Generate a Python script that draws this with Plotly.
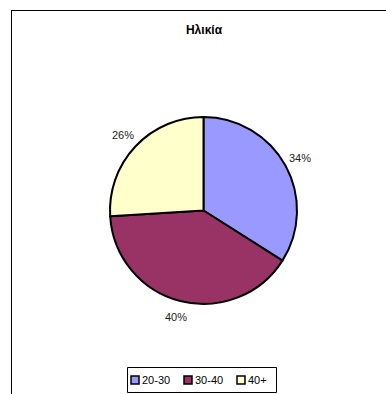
import math
import plotly.graph_objects as go

# Age groups and their shares (%)
age_groups = ["20-30", "30-40", "40+"]
shares = [34, 40, 26]
slice_colors = ["#9999FF", "#993366", "#FFFFCC"]

W, H = 386, 394
FONT = "Arial, Liberation Sans, sans-serif"

# pie geometry in pixels
CX, CY, R = 203.5, 210.5, 93.5
LABEL_R = 110


def px(x):
    return x / W


def py(y):
    return 1 - y / H


fig = go.Figure(
    go.Pie(
        labels=age_groups,
        values=shares,
        sort=False,
        direction="clockwise",
        rotation=0,
        marker=dict(colors=slice_colors, line=dict(color="black", width=2)),
        textinfo="none",
        domain=dict(x=[px(CX - R), px(CX + R)], y=[py(CY + R), py(CY - R)]),
        hoverinfo="label+percent",
        showlegend=False,
    )
)

# percentage labels outside each slice, at the slice's mid angle
total = sum(shares)
cum = 0
for v in shares:
    mid = (cum + v / 2) / total * 2 * math.pi
    cum += v
    lx = CX + LABEL_R * math.sin(mid)
    ly = CY - LABEL_R * math.cos(mid)
    fig.add_annotation(
        x=px(lx), y=py(ly), xref="paper", yref="paper",
        text=f"{round(v / total * 100)}%", showarrow=False,
        xanchor="center", yanchor="middle",
        font=dict(family=FONT, size=11, color="#222"),
    )

# chart-area frame: top and left edges
fig.add_shape(type="line", xref="paper", yref="paper",
              x0=px(11), x1=1, y0=py(10.5), y1=py(10.5),
              line=dict(color="black", width=1))
fig.add_shape(type="line", xref="paper", yref="paper",
              x0=px(11.5), x1=px(11.5), y0=0, y1=py(10.5),
              line=dict(color="black", width=1))

# legend box
fig.add_shape(type="rect", xref="paper", yref="paper",
              x0=px(127.5), x1=px(276.5), y0=py(392.5), y1=py(367.5),
              line=dict(color="black", width=1), fillcolor="white")
legend_x = [131, 184, 237]
LY = 380
for name, col, x0 in zip(age_groups, slice_colors, legend_x):
    fig.add_shape(type="rect", xref="paper", yref="paper",
                  x0=px(x0), x1=px(x0 + 8), y0=py(LY + 4), y1=py(LY - 4),
                  line=dict(color="black", width=1.5), fillcolor=col)
    fig.add_annotation(
        x=px(x0 + 9), y=py(LY), xref="paper", yref="paper",
        text=name, showarrow=False, xanchor="left", yanchor="middle",
        font=dict(family=FONT, size=11, color="black"),
    )

fig.update_layout(
    width=W,
    height=H,
    margin=dict(l=0, r=0, t=0, b=0),
    paper_bgcolor="white",
    plot_bgcolor="white",
    title=dict(
        text="<b>Ηλικία</b>",
        x=px(204),
        xanchor="center",
        y=py(30),
        yanchor="middle",
        font=dict(family=FONT, size=12, color="black"),
    ),
    showlegend=False,
)

fig.write_html("out.html")
